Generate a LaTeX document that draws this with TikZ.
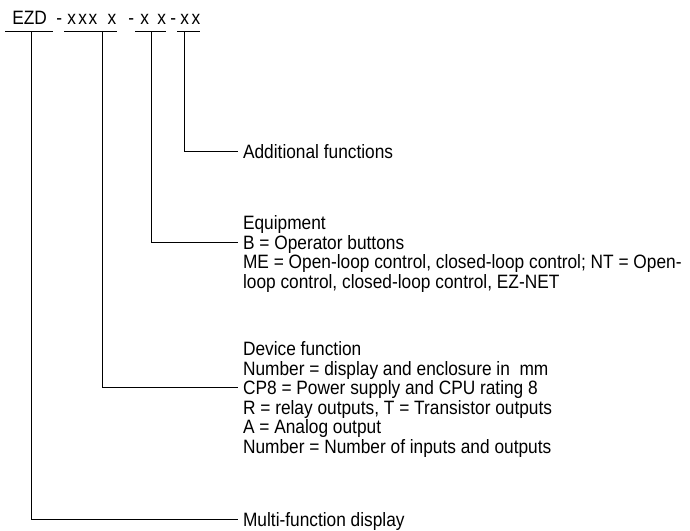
\documentclass[tikz,border=0pt]{standalone}
\usepackage{fontspec}
\setmainfont{Liberation Sans}[FakeStretch=0.895]
\begin{document}
\begin{tikzpicture}[x=0.75pt,y=-0.75pt,
  every node/.style={font=\fontsize{14.5pt}{14.5pt}\selectfont, inner sep=0pt},
  code/.style={anchor=base west},
  lbl/.style={anchor=west, text height=10.2pt, text depth=0pt, inner xsep=3.6pt},
  ln/.style={line width=0.75pt}]
\useasboundingbox (0,0) rectangle (690,531);
% code string
\node[code] (ezd) at (12,25) {EZD};
\node[code] (d1) at (56,25) {-};
\node[code] (g2) at (67,25) {x\kern1.9pt x\kern1.1pt x\kern7.9pt x};
\node[code] (d2) at (128,25) {-};
\node[code] (g3) at (140,25) {x\kern6.4pt x};
\node[code] (d3) at (170,25) {-};
\node[code] (g4) at (180,25) {x\kern2pt x};
% underlines
\coordinate (u1a) at (5,32);   \coordinate (u1b) at (53,32);
\coordinate (u2a) at (64,32);  \coordinate (u2b) at (117,32);
\coordinate (u3a) at (135,32); \coordinate (u3b) at (166,32);
\coordinate (u4a) at (177,32); \coordinate (u4b) at (200,32);
\draw[ln] (u1a) -- (u1b);
\draw[ln] (u2a) -- (u2b);
\draw[ln] (u3a) -- (u3b);
\draw[ln] (u4a) -- (u4b);
\coordinate (v1) at (31,32);
\coordinate (v2) at (102,32);
\coordinate (v3) at (151,32);
\coordinate (v4) at (184,32);
% labels
\node[lbl] (add) at (238,152) {Additional functions};
\node[lbl] (eq0) at (238,223) {Equipment};
\node[lbl] (eqB) at (238,242.5) {B = Operator buttons};
\node[lbl] (eqM) at (238,262) {ME = Open-loop control, closed-loop control; NT = Open-};
\node[lbl] (eqL) at (238,281.5) {loop control, closed-loop control, EZ-NET};
\node[lbl] (df0) at (238,349) {Device function};
\node[lbl] (df1) at (238,368.5) {Number = display and enclosure in\ \ mm};
\node[lbl] (df2) at (238,388) {CP8 = Power supply and CPU rating 8};
\node[lbl] (df3) at (238,407.5) {R = relay outputs, T = Transistor outputs};
\node[lbl] (df4) at (238,427) {A = Analog output};
\node[lbl] (df5) at (238,446.5) {Number = Number of inputs and outputs};
\node[lbl] (mfd) at (238,519.5) {Multi-function display};
% connectors
\draw[ln] (v4) |- (add.west);
\draw[ln] (v3) |- (eqB.west);
\draw[ln] (v2) |- (df2.west);
\draw[ln] (v1) |- (mfd.west);
\end{tikzpicture}
\end{document}
